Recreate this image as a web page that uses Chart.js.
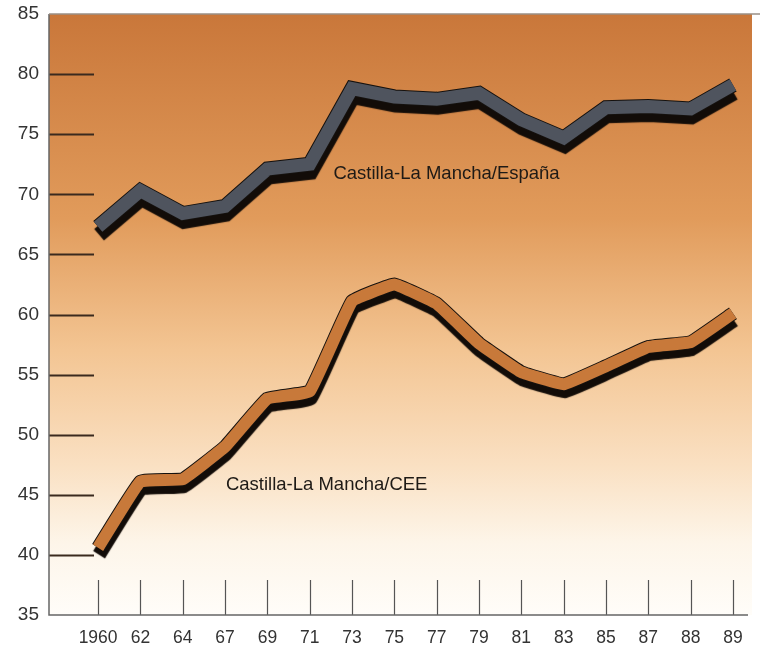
<!DOCTYPE html>
<html>
<head>
<meta charset="utf-8">
<script src="https://cdn.jsdelivr.net/npm/chart.js@4.4.1/dist/chart.umd.min.js"></script>
<style>
  html, body { margin: 0; padding: 0; background: #fff; }
  #wrap { width: 760px; height: 645px; position: relative; }
</style>
</head>
<body>
<div id="wrap"><canvas id="c"></canvas></div>
<script>
const years = ['1960', '62', '64', '67', '69', '71', '73', '75', '77', '79', '81', '83', '85', '87', '88', '89'];
const espana = [67.3, 70.3, 68.4, 69.0, 72.1, 72.5, 78.8, 78.1, 77.9, 78.4, 76.2, 74.7, 77.2, 77.3, 77.1, 79.1];
const cee = [40.6, 46.1, 46.3, 49.0, 53.0, 53.6, 61.1, 62.5, 60.9, 57.6, 55.2, 54.2, 55.7, 57.3, 57.7, 60.1];
const yTicks = [35, 40, 45, 50, 55, 60, 65, 70, 75, 80, 85];

const font = "'Liberation Sans', Arial, sans-serif";

function pts(arr) {
    return arr.map((v, i) => ({ x: i, y: v }));
}

// background gradient, frame and the short tick marks inside the plot
const frame = {
    id: 'frame',
    beforeDatasetsDraw(chart) {
        const ctx = chart.ctx;
        const a = chart.chartArea;
        const g = ctx.createLinearGradient(0, a.top, 0, a.bottom);
        g.addColorStop(0, '#c9773a');
        g.addColorStop(0.34, '#e19b5b');
        g.addColorStop(0.56, '#f3c593');
        g.addColorStop(0.75, '#fae0c2');
        g.addColorStop(0.88, '#fdf5e9');
        g.addColorStop(1, '#fffdf9');
        ctx.save();
        ctx.fillStyle = g;
        ctx.fillRect(a.left, a.top, a.right - a.left, a.bottom - a.top);

        const x = chart.scales.x, y = chart.scales.y;
        ctx.strokeStyle = '#3b2a1e';
        ctx.lineWidth = 2;
        yTicks.forEach(v => {
            if (v === 35 || v === 85) return;
            const py = Math.round(y.getPixelForValue(v)) + 0.5;
            ctx.beginPath();
            ctx.moveTo(a.left, py);
            ctx.lineTo(a.left + 45, py);
            ctx.stroke();
        });
        ctx.strokeStyle = '#555';
        ctx.lineWidth = 1.2;
        years.forEach((_, i) => {
            const px = Math.round(x.getPixelForValue(i)) + 0.5;
            ctx.beginPath();
            ctx.moveTo(px, a.bottom - 35);
            ctx.lineTo(px, a.bottom);
            ctx.stroke();
        });

        ctx.strokeStyle = '#666';
        ctx.lineWidth = 1.5;
        ctx.beginPath();
        ctx.moveTo(a.left, a.top);
        ctx.lineTo(a.left, a.bottom);
        ctx.lineTo(a.right - 4, a.bottom);
        ctx.stroke();
        ctx.strokeStyle = '#9a8f86';
        ctx.beginPath();
        ctx.moveTo(a.left, a.top);
        ctx.lineTo(chart.width, a.top);
        ctx.stroke();
        ctx.restore();
    },
    afterDatasetsDraw(chart) {
        const ctx = chart.ctx;
        const x = chart.scales.x, y = chart.scales.y;
        ctx.save();
        ctx.fillStyle = '#1e1a16';
        ctx.font = '18.5px ' + font;
        ctx.textBaseline = 'middle';
        ctx.fillText('Castilla-La Mancha/España', x.getPixelForValue(5.56), y.getPixelForValue(71.7));
        ctx.fillText('Castilla-La Mancha/CEE', x.getPixelForValue(3.02), y.getPixelForValue(45.8));
        ctx.restore();
    }
};

// drop shadow under the dark outline datasets to get the ribbon look
const ribbon = {
    id: 'ribbon',
    beforeDatasetDraw(chart, args) {
        const ds = chart.data.datasets[args.index];
        chart.ctx.save();
        if (ds.shadowY) {
            chart.ctx.shadowColor = '#120c08';
            chart.ctx.shadowOffsetX = 1;
            chart.ctx.shadowOffsetY = ds.shadowY;
            chart.ctx.shadowBlur = 1;
        }
    },
    afterDatasetDraw(chart) {
        chart.ctx.restore();
    }
};

const line = { pointRadius: 0, borderJoinStyle: 'miter', borderCapStyle: 'butt', fill: false };

new Chart(document.getElementById('c'), {
    type: 'line',
    data: {
        datasets: [
            Object.assign({ data: pts(espana), borderColor: '#4f545e', borderWidth: 13, tension: 0, order: 0 }, line),
            Object.assign({ data: pts(espana), borderColor: '#15110e', borderWidth: 15, tension: 0, order: 1, shadowY: 8 }, line),
            Object.assign({ data: pts(cee), borderColor: '#c8793a', borderWidth: 12, tension: 0.08, order: 0 }, line),
            Object.assign({ data: pts(cee), borderColor: '#15110e', borderWidth: 14, tension: 0.08, order: 1, shadowY: 7 }, line)
        ]
    },
    options: {
        responsive: true,
        maintainAspectRatio: false,
        animation: false,
        layout: { padding: { top: 14, right: 8, left: 0, bottom: 0 } },
        plugins: { legend: { display: false }, tooltip: { enabled: false } },
        scales: {
            x: {
                type: 'linear',
                min: -1.16,
                max: 15.45,
                grid: { display: false, drawTicks: false },
                border: { display: false },
                afterBuildTicks(scale) {
                    scale.ticks = years.map((_, i) => ({ value: i }));
                },
                afterFit(scale) { scale.height = 30; },
                ticks: {
                    autoSkip: false,
                    maxRotation: 0,
                    padding: 13,
                    color: '#333',
                    font: { family: font, size: 17.5 },
                    callback: v => years[v]
                }
            },
            y: {
                min: 35,
                max: 85,
                grid: { display: false, drawTicks: false },
                border: { display: false },
                afterFit(scale) {
                    scale.width = 49;
                    scale.paddingTop = 0;
                    scale.paddingBottom = 0;
                },
                ticks: {
                    stepSize: 5,
                    padding: 10,
                    color: '#333',
                    font: { family: font, size: 19 }
                }
            }
        }
    },
    plugins: [frame, ribbon]
});
</script>
</body>
</html>
